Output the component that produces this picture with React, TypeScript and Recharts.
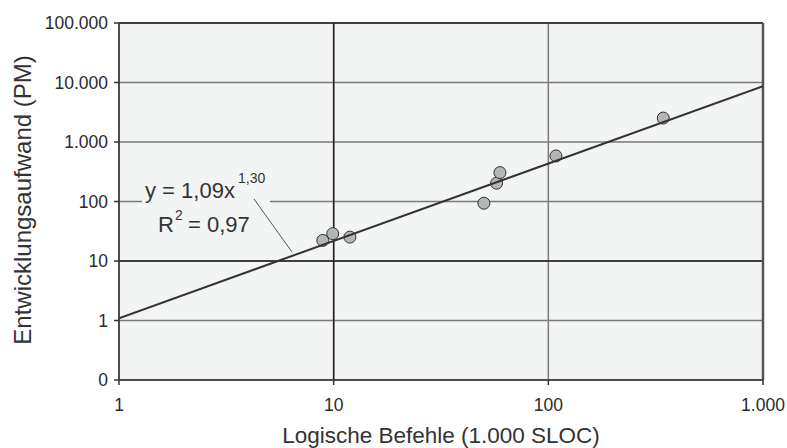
import { ScatterChart, Scatter, XAxis, YAxis, CartesianGrid, ReferenceLine } from 'recharts';

// Logical statements (1.000 SLOC) vs. development effort (PM)
const sizeKsloc = [8.9, 9.9, 11.9, 50.1, 57.4, 59.5, 108.5, 343];
const effortPm = [22.2, 28.8, 25.2, 93.6, 203, 306, 583, 2525];

// power trend y = 1,09x^1,30 (straight in log-log), endpoints
const trendX = [1, 1000];
const trendY = [1.09, 8650];

const xTicks = [1, 10, 100, 1000];
const yTicks = [0.1, 1, 10, 100, 1000, 10000, 100000];

const projects = sizeKsloc.map((x, i) => ({ x, y: effortPm[i] }));
const trend = trendX.map((x, i) => ({ x, y: trendY[i] }));

const font = '"Liberation Sans", Arial, Helvetica, sans-serif';

// german thousands separator, 0.1 shows as "0"
const fmt = (v: number) => {
  if (v < 1) return '0';
  return String(Math.round(v)).replace(/\B(?=(\d{3})+(?!\d))/g, '.');
};

const tickStyle = { fontSize: 17.5, fill: '#2a2a2a', fontFamily: font };

export default function App() {
  return (
    <div style={{ position: 'absolute', left: 0, top: 0, width: 787, height: 448, background: '#fff' }}>
      <ScatterChart width={787} height={448} margin={{ top: 23, right: 24, left: 0, bottom: 0 }}>
        <CartesianGrid fill="#f3f4f4" stroke="#7a7a7a" strokeWidth={1.5} />
        <XAxis
          type="number"
          dataKey="x"
          scale="log"
          domain={[1, 1000]}
          ticks={xTicks}
          tickFormatter={fmt}
          height={68}
          tick={tickStyle}
          tickSize={5}
          tickMargin={14}
          stroke="#333"
          strokeWidth={1.5}
          allowDataOverflow
        />
        <YAxis
          type="number"
          dataKey="y"
          scale="log"
          domain={[0.1, 100000]}
          ticks={yTicks}
          tickFormatter={fmt}
          width={119}
          tick={tickStyle}
          tickSize={5}
          tickMargin={6}
          stroke="#333"
          strokeWidth={1.5}
          allowDataOverflow
        />
        <ReferenceLine y={10} stroke="#222" strokeWidth={1.5} />
        <ReferenceLine x={10} stroke="#222" strokeWidth={1.5} />
        <ReferenceLine y={100000} stroke="#222" strokeWidth={1.5} />
        <ReferenceLine x={1000} stroke="#555" strokeWidth={2.5} />
        <Scatter
          data={projects}
          fill="#b3b5b8"
          stroke="#333"
          strokeWidth={1}
          shape={(p: any) => <circle cx={p.cx} cy={p.cy} r={6} fill="#b3b5b8" stroke="#333" strokeWidth={1} />}
          isAnimationActive={false}
        />
        <Scatter
          data={trend}
          line={{ stroke: '#333', strokeWidth: 2 }}
          shape={() => <g />}
          isAnimationActive={false}
        />
      </ScatterChart>
      <svg
        width={787}
        height={448}
        style={{ position: 'absolute', left: 0, top: 0, pointerEvents: 'none' }}
        fontFamily={font}
      >
        <rect x={142} y={196} width={128} height={8} fill="#f3f4f4" />
        <line x1={254} y1={199} x2={292} y2={252} stroke="#555" strokeWidth={1} />
        <text x={145} y={198} fontSize={22} fill="#333">
          y = 1,09x
        </text>
        <text x={238} y={183} fontSize={14} fill="#333">
          1,30
        </text>
        <text x={158} y={232} fontSize={22} fill="#333">
          R
        </text>
        <text x={175} y={220} fontSize={14} fill="#333">
          2
        </text>
        <text x={188} y={232} fontSize={22} fill="#333">
          = 0,97
        </text>
        <text
          x={0}
          y={0}
          fontSize={24}
          fill="#333"
          textAnchor="middle"
          transform="translate(31,200) rotate(-90)"
        >
          Entwicklungsaufwand (PM)
        </text>
        <text x={441} y={443} fontSize={22.5} fill="#333" textAnchor="middle">
          Logische Befehle (1.000 SLOC)
        </text>
      </svg>
    </div>
  );
}
